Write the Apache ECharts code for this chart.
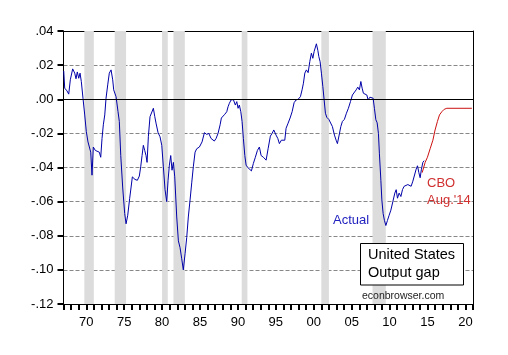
<!DOCTYPE html>
<html>
<head>
<meta charset="utf-8">
<script src="https://cdn.jsdelivr.net/npm/echarts@6/dist/echarts.min.js"></script>
<style>
html,body{margin:0;padding:0;background:#fff;}
#chart{width:508px;height:355px;}
</style>
</head>
<body>
<div id="chart"></div>
<script>
// Actual output gap (decimal year, value)
const actualYears = [
1967.03,1967.16,1967.46,1967.69,1967.90,1968.21,1968.48,1968.65,1968.82,1969.01,1969.18,1969.35,1969.57,1969.80,
1970.01,1970.23,1970.40,1970.59,1970.76,1970.93,1971.20,1971.42,1971.72,1971.91,1972.08,1972.25,1972.44,1972.61,1972.83,
1973.04,1973.27,1973.49,1973.62,1973.75,1973.93,1974.19,1974.36,1974.55,1974.81,1975.07,1975.25,1975.47,1975.73,1975.90,
1976.08,1976.43,1976.74,1977.00,1977.18,1977.36,1977.53,1977.71,1977.88,1978.02,1978.19,1978.41,1978.64,1978.85,
1979.03,1979.20,1979.47,1979.73,1979.96,1980.17,1980.39,1980.61,1980.79,1980.96,1981.14,1981.31,1981.49,1981.67,1981.93,
1982.15,1982.37,1982.59,1982.80,1983.03,1983.25,1983.46,1983.69,1983.91,1984.12,1984.35,1984.57,1984.92,1985.27,1985.58,1985.89,
1986.16,1986.46,1986.68,1986.89,1987.12,1987.38,1987.65,1987.82,1988.08,1988.27,1988.53,1988.70,1988.87,1989.10,1989.40,1989.66,1989.85,
1990.02,1990.19,1990.38,1990.55,1990.72,1990.91,1991.08,1991.30,1991.51,1991.78,1992.04,1992.30,1992.57,1992.83,1993.06,1993.36,1993.72,1993.98,
1994.28,1994.51,1994.73,1994.86,1995.03,1995.26,1995.47,1995.73,1995.96,1996.18,1996.35,1996.62,1996.88,1997.15,1997.41,1997.67,1997.94,
1998.24,1998.46,1998.64,1998.82,1999.03,1999.26,1999.48,1999.69,1999.88,2000.05,2000.22,2000.35,2000.54,2000.67,2000.84,
2001.01,2001.20,2001.37,2001.54,2001.72,2001.99,2002.25,2002.46,2002.73,2002.95,2003.12,2003.35,2003.57,2003.78,
2004.04,2004.31,2004.57,2004.84,2005.10,2005.36,2005.59,2005.81,2006.02,2006.21,2006.38,2006.55,2006.78,2007.00,2007.17,2007.40,2007.61,2007.83,
2008.00,2008.19,2008.36,2008.53,2008.66,2008.85,2008.98,2009.15,2009.32,2009.51,2009.72,2009.94,2010.17,2010.43,2010.69,2010.87,
2011.04,2011.26,2011.49,2011.70,2011.92,2012.18,2012.41,2012.62,2012.84,2013.07,2013.28,2013.50,2013.68,2013.86,2014.03,2014.20,2014.39,2014.56
];
const actualValues = [
0.0166,0.0065,0.0049,0.0030,0.0114,0.0178,0.0153,0.0120,0.0160,0.0123,0.0153,0.0104,0.0006,-0.0092,
-0.0190,-0.0250,-0.0260,-0.0310,-0.0445,-0.0280,-0.0300,-0.0300,-0.0310,-0.0340,-0.0230,-0.0150,-0.0092,0.0006,0.0084,
0.0153,0.0172,0.0114,0.0055,0.0065,0.0015,-0.0073,-0.0130,-0.0330,-0.0520,-0.0670,-0.0730,-0.0680,-0.0580,-0.0520,
-0.0455,-0.0470,-0.0475,-0.0450,-0.0396,-0.0330,-0.0270,-0.0300,-0.0330,-0.0370,-0.0220,-0.0102,-0.0092,-0.0053,
-0.0100,-0.0140,-0.0196,-0.0220,-0.0270,-0.0396,-0.0530,-0.0600,-0.0475,-0.0386,-0.0330,-0.0416,-0.0370,-0.0455,-0.0690,
-0.0830,-0.0870,-0.0935,-0.1000,-0.0906,-0.0810,-0.0690,-0.0590,-0.0490,-0.0396,-0.0310,-0.0290,-0.0280,-0.0250,-0.0196,-0.0206,
-0.0200,-0.0230,-0.0220,-0.0245,-0.0230,-0.0200,-0.0150,-0.0110,-0.0120,-0.0088,-0.0073,-0.0044,-0.0024,-0.0004,-0.0002,-0.0034,-0.0014,
-0.0053,-0.0034,-0.0073,-0.0130,-0.0230,-0.0330,-0.0386,-0.0400,-0.0396,-0.0420,-0.0376,-0.0340,-0.0300,-0.0280,-0.0330,-0.0340,-0.0357,-0.0290,
-0.0216,-0.0200,-0.0180,-0.0177,-0.0210,-0.0230,-0.0260,-0.0240,-0.0240,-0.0240,-0.0170,-0.0140,-0.0110,-0.0073,-0.0020,-0.0004,0.0000,
0.0015,0.0055,0.0094,0.0153,0.0172,0.0156,0.0221,0.0270,0.0240,0.0280,0.0290,0.0325,0.0286,0.0250,0.0220,
0.0153,0.0074,-0.0004,-0.0082,-0.0106,-0.0118,-0.0126,-0.0160,-0.0210,-0.0240,-0.0260,-0.0210,-0.0160,-0.0130,
-0.0118,-0.0082,-0.0053,-0.0014,0.0025,0.0031,0.0055,0.0071,0.0055,0.0104,0.0065,0.0035,0.0045,0.0025,-0.0004,0.0012,0.0019,0.0006,
-0.0053,-0.0120,-0.0138,-0.0200,-0.0320,-0.0475,-0.0590,-0.0670,-0.0710,-0.0740,-0.0710,-0.0680,-0.0650,-0.0600,-0.0550,-0.0530,
-0.0580,-0.0550,-0.0570,-0.0530,-0.0510,-0.0520,-0.0500,-0.0490,-0.0510,-0.0480,-0.0475,-0.0410,-0.0390,-0.0430,-0.0460,-0.0410,-0.0370,-0.0360
];

// CBO Aug. 2014 projection
const cboYears  = [2014.30,2014.69,2014.99,2015.35,2015.71,2016.00,2016.31,2016.58,2016.89,2017.20,2017.55,2020.85];
const cboValues = [-0.0430,-0.0370,-0.0340,-0.0290,-0.0240,-0.0180,-0.0130,-0.0092,-0.0073,-0.0059,-0.0053,-0.0053];

// NBER recessions (start, end) in decimal years
const recessions = [[1969.75,1971.0],[1973.75,1975.25],[1980.0,1980.75],[1981.5,1983.0],[1990.5,1991.25],[2001.0,2002.0],[2007.75,2009.5]];

// axis ticks
const yTicks = [-0.12,-0.10,-0.08,-0.06,-0.04,-0.02,0.00,0.02,0.04];
const xLabelYears = [1970,1975,1980,1985,1990,1995,2000,2005,2010,2015,2020];

const FONT = '"Liberation Sans", Arial, sans-serif';
const zip = (a, b) => a.map((v, i) => [v, b[i]]);

function fmtY(v) {
  const s = Math.abs(v).toFixed(2).replace(/^0/, '');
  return (v < -1e-9 ? '-' : '') + s;
}

const xMin = 1967, xMax = 2021;
const yMin = yTicks[0], yMax = yTicks[yTicks.length - 1];
const frameLine = {show: true, onZero: false, lineStyle: {color: '#000'}};

const chart = echarts.init(document.getElementById('chart'));
chart.setOption({
  backgroundColor: '#fff',
  animation: false,
  grid: {left: 63.5, right: 35, top: 31, bottom: 51},
  xAxis: [{
    type: 'value', min: xMin, max: xMax, interval: 1,
    axisLine: frameLine,
    axisTick: {show: true, length: 6, lineStyle: {color: '#000', width: 2}},
    axisLabel: {
      margin: 12, color: '#000', fontFamily: FONT, fontSize: 13,
      formatter: v => xLabelYears.indexOf(Math.round(v)) >= 0 ? String(Math.round(v)).slice(2) : ''
    },
    splitLine: {show: false}
  }, {
    type: 'value', position: 'top', min: xMin, max: xMax, interval: 1,
    axisLine: frameLine, axisTick: {show: false}, axisLabel: {show: false}, splitLine: {show: false}
  }],
  yAxis: [{
    type: 'value', min: yMin, max: yMax, interval: 0.02,
    axisLine: frameLine,
    axisTick: {show: true, length: 6, lineStyle: {color: '#000', width: 2}},
    axisLabel: {margin: 10, color: '#000', fontFamily: FONT, fontSize: 13, formatter: fmtY},
    splitLine: {show: true, lineStyle: {color: '#888', type: 'dashed', width: 1}}
  }, {
    type: 'value', position: 'right', min: yMin, max: yMax, interval: 0.02,
    axisLine: frameLine, axisTick: {show: false}, axisLabel: {show: false}, splitLine: {show: false}
  }],
  series: [
    {
      type: 'line', data: zip(actualYears, actualValues), showSymbol: false,
      lineStyle: {color: '#0000a8', width: 1},
      markLine: {
        silent: true, symbol: 'none', label: {show: false},
        lineStyle: {color: '#000', type: 'solid', width: 1},
        data: [{yAxis: 0}]
      },
      markArea: {
        silent: true,
        itemStyle: {color: '#dcdcdc'},
        data: recessions.map(r => [{xAxis: r[0]}, {xAxis: r[1]}])
      }
    },
    {
      type: 'line', data: zip(cboYears, cboValues), showSymbol: false,
      lineStyle: {color: '#cc1111', width: 1}
    }
  ],
  graphic: [
    {type: 'text', left: 333, top: 214, z: 10, style: {text: 'Actual', font: '13px ' + FONT, fill: '#2222c0'}},
    {type: 'text', left: 427, top: 177, z: 10, style: {text: 'CBO', font: '13px ' + FONT, fill: '#d03030'}},
    {type: 'text', left: 427, top: 194, z: 10, style: {text: "Aug.'14", font: '13px ' + FONT, fill: '#d03030'}},
    {type: 'rect', z: 10, shape: {x: 360.5, y: 243.5, width: 103, height: 41.5}, style: {fill: '#fff', stroke: '#000', lineWidth: 1}},
    {type: 'text', left: 368, top: 247, z: 11, style: {text: 'United States', font: '14.5px ' + FONT, fill: '#000'}},
    {type: 'text', left: 368, top: 265, z: 11, style: {text: 'Output gap', font: '14.5px ' + FONT, fill: '#000'}},
    {type: 'text', left: 362, top: 291, z: 10, style: {text: 'econbrowser.com', font: '10.5px ' + FONT, fill: '#222'}}
  ]
});
</script>
</body>
</html>
